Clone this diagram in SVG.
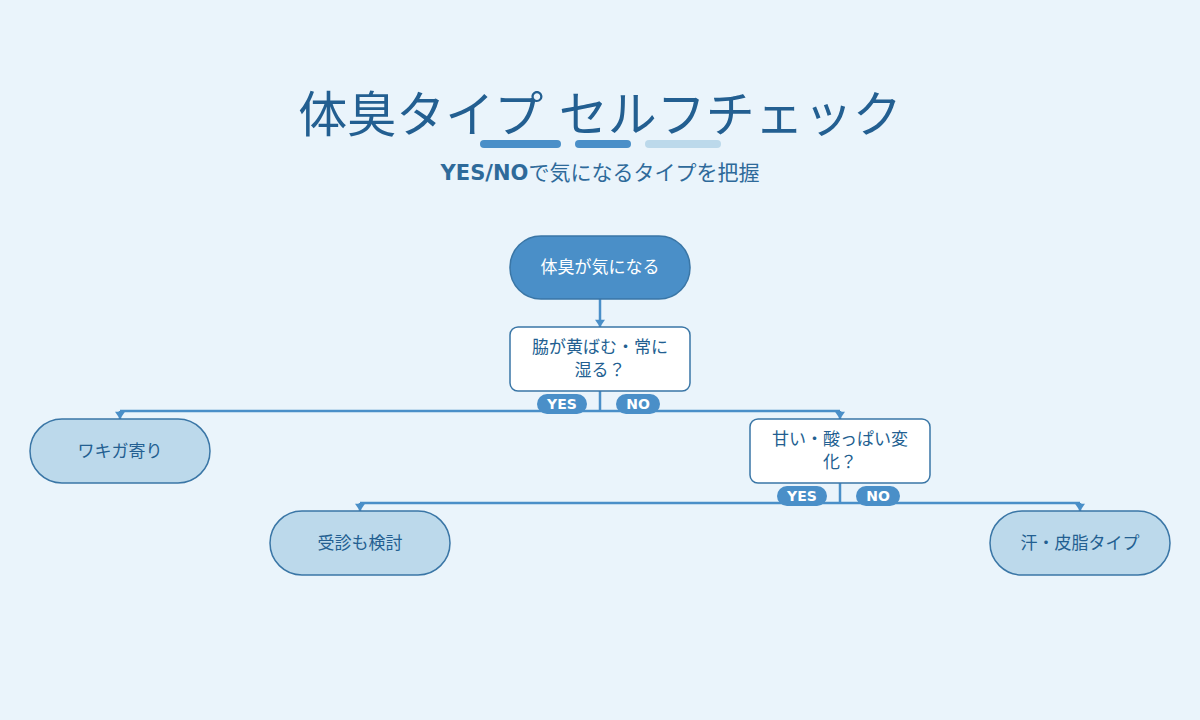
<svg xmlns="http://www.w3.org/2000/svg" width="1200" height="720" viewBox="0 0 1200 720">
<style>
text{font-family:"DejaVu Sans","Noto Sans CJK JP",sans-serif;text-anchor:middle}
.t{fill:#235f91;font-size:49px}
.s{fill:#2e6a9a;font-size:21px}
.n{stroke:#3a76a6;stroke-width:1.5}
.lt{fill:#bcd9eb}
.lbl{fill:#235f91;font-size:17px}
.c{stroke:#4a8fc8;stroke-width:2.5;fill:none}
.pill{fill:#4a8fc8}
.pt{fill:#fff;font-size:14px;font-weight:bold}
</style>
<defs><marker id="a" markerWidth="14" markerHeight="10" refX="10" refY="7" orient="auto" markerUnits="userSpaceOnUse" viewBox="0 0 10 14"><path d="M0,0L10,7L0,14z" fill="#4a8fc8"/></marker></defs>
<rect width="1200" height="720" fill="#eaf4fb"/>
<text class="t" x="600" y="132">体臭タイプ セルフチェック</text>
<rect x="480" y="140" width="81" height="8" rx="4" fill="#4a8fc8"/>
<rect x="575" y="140" width="56" height="8" rx="4" fill="#4a8fc8"/>
<rect x="645" y="140" width="76" height="8" rx="4" fill="#bcd9eb"/>
<text class="s" x="600" y="180"><tspan font-weight="bold">YES/NO</tspan>で気になるタイプを把握</text>
<g id="connectors">
<path class="c" d="M600,299V327" marker-end="url(#a)"/>
<path class="c" d="M600,391V411M120,411H840M120,411V419" marker-end="url(#a)"/>
<path class="c" d="M840,411V419" marker-end="url(#a)"/>
<path class="c" d="M840,483V503M360,503H1080M360,503V511" marker-end="url(#a)"/>
<path class="c" d="M1080,503V511" marker-end="url(#a)"/>
<rect class="pill" x="537" y="394" width="50" height="20" rx="10"/><text class="pt" x="562" y="409">YES</text>
<rect class="pill" x="616" y="394" width="44" height="20" rx="10"/><text class="pt" x="638" y="409">NO</text>
<rect class="pill" x="777" y="486" width="50" height="20" rx="10"/><text class="pt" x="802" y="501">YES</text>
<rect class="pill" x="856" y="486" width="44" height="20" rx="10"/><text class="pt" x="878" y="501">NO</text>
</g>
<g id="start"><rect class="n" x="510" y="236" width="180" height="63" rx="31" fill="#4a8fc8"/><text x="600" y="273" font-size="17" fill="#fff">体臭が気になる</text></g>
<g id="q1"><rect class="n" x="510" y="327" width="180" height="64" rx="8" fill="#fff"/><text class="lbl" x="600" y="353">脇が黄ばむ・常に</text><text class="lbl" x="600" y="376">湿る？</text></g>
<g id="wakiga"><rect class="n lt" x="30" y="419" width="180" height="64" rx="32"/><text class="lbl" x="120" y="457">ワキガ寄り</text></g>
<g id="q2"><rect class="n" x="750" y="419" width="180" height="64" rx="8" fill="#fff"/><text class="lbl" x="840" y="445">甘い・酸っぱい変</text><text class="lbl" x="840" y="468">化？</text></g>
<g id="doctor"><rect class="n lt" x="270" y="511" width="180" height="64" rx="32"/><text class="lbl" x="360" y="549">受診も検討</text></g>
<g id="sweat"><rect class="n lt" x="990" y="511" width="180" height="64" rx="32"/><text class="lbl" x="1080" y="549">汗・皮脂タイプ</text></g>
</svg>
